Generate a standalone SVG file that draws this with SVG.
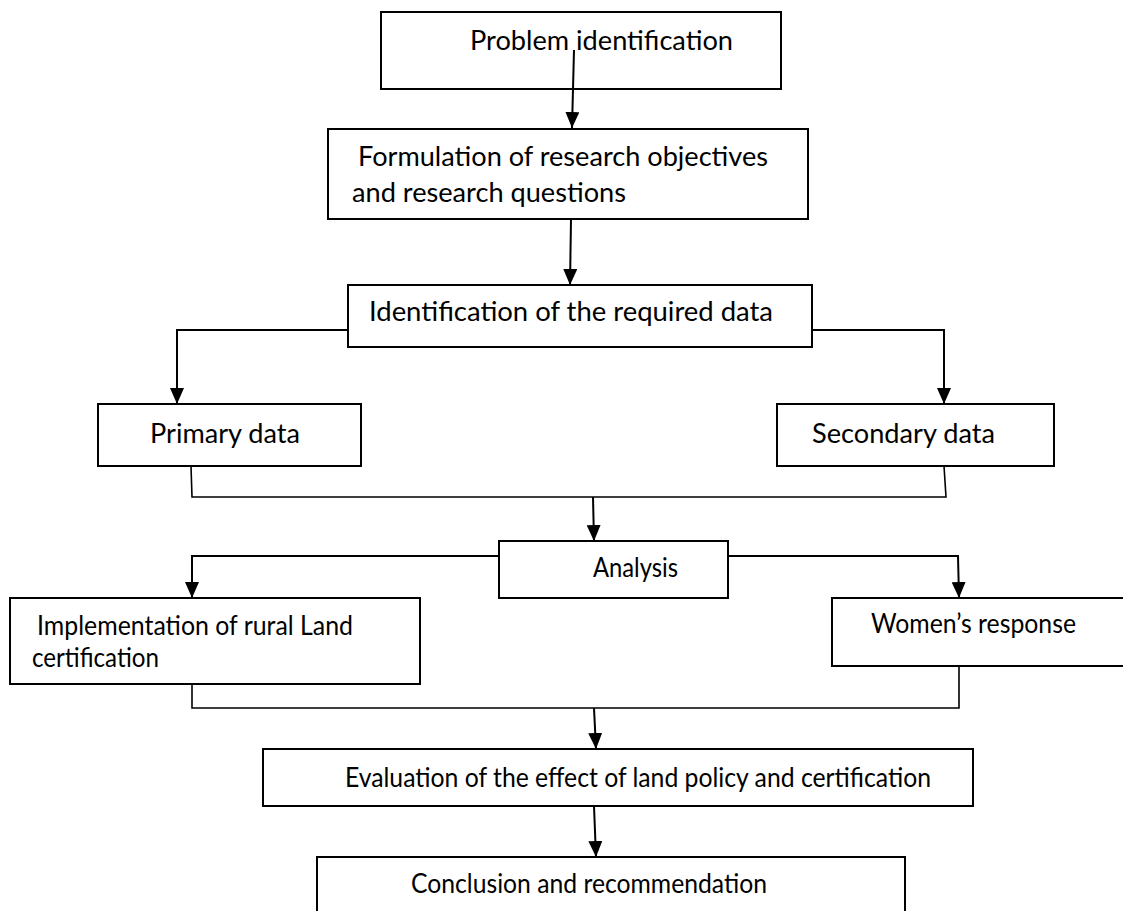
<svg xmlns="http://www.w3.org/2000/svg" width="1123" height="911" viewBox="0 0 1123 911">
  <style>
    .box { fill: #ffffff; stroke: #000000; stroke-width: 2; }
    .lbl { font-family: Lato, "Liberation Sans", sans-serif; font-size: 26px; fill: #000000; }
    .link { fill: none; stroke: #000000; stroke-width: 2; }
    .join { fill: none; stroke: #000000; stroke-width: 1.6; }
  </style>
  <defs>
    <marker id="arrow" viewBox="0 0 16 14" refX="16" refY="7" markerWidth="16" markerHeight="14" markerUnits="userSpaceOnUse" orient="auto">
      <path d="M0,0 L16,7 L0,14 Z" fill="#000000"/>
    </marker>
  </defs>
  <rect width="1123" height="911" fill="#ffffff"/>

  <!-- boxes -->
  <g id="problem">
    <rect class="box" x="381" y="12" width="400" height="77"/>
    <text class="lbl" x="470" y="50" textLength="263" lengthAdjust="spacingAndGlyphs">Problem identification</text>
  </g>
  <g id="formulation">
    <rect class="box" x="328" y="129" width="480" height="90"/>
    <text class="lbl" x="358" y="166" textLength="410" lengthAdjust="spacingAndGlyphs">Formulation of research objectives</text>
    <text class="lbl" x="352" y="202" textLength="274" lengthAdjust="spacingAndGlyphs">and research questions</text>
  </g>
  <g id="required-data">
    <rect class="box" x="348" y="285" width="464" height="62"/>
    <text class="lbl" x="369" y="321" textLength="404" lengthAdjust="spacingAndGlyphs">Identification of the required data</text>
  </g>
  <g id="primary">
    <rect class="box" x="98" y="404" width="263" height="62"/>
    <text class="lbl" x="150" y="443" textLength="150" lengthAdjust="spacingAndGlyphs">Primary data</text>
  </g>
  <g id="secondary">
    <rect class="box" x="777" y="404" width="277" height="62"/>
    <text class="lbl" x="812" y="443" textLength="183" lengthAdjust="spacingAndGlyphs">Secondary data</text>
  </g>
  <g id="analysis">
    <rect class="box" x="499" y="541" width="229" height="57"/>
    <text class="lbl" x="593" y="577" textLength="85" lengthAdjust="spacingAndGlyphs">Analysis</text>
  </g>
  <g id="implementation">
    <rect class="box" x="10" y="598" width="410" height="86"/>
    <text class="lbl" x="37" y="635" textLength="316" lengthAdjust="spacingAndGlyphs">Implementation of rural Land</text>
    <text class="lbl" x="32" y="667" textLength="127" lengthAdjust="spacingAndGlyphs">certification</text>
  </g>
  <g id="womens-response">
    <rect class="box" x="832" y="598" width="300" height="68"/>
    <text class="lbl" x="871" y="633" textLength="205" lengthAdjust="spacingAndGlyphs">Women’s response</text>
  </g>
  <g id="evaluation">
    <rect class="box" x="263" y="749" width="710" height="57"/>
    <text class="lbl" x="345" y="787" textLength="586" lengthAdjust="spacingAndGlyphs">Evaluation of the effect of land policy and certification</text>
  </g>
  <g id="conclusion">
    <rect class="box" x="317" y="857" width="588" height="70"/>
    <text class="lbl" x="411" y="893" textLength="356" lengthAdjust="spacingAndGlyphs">Conclusion and recommendation</text>
  </g>

  <!-- connectors -->
  <g id="connectors">
    <path class="link" d="M574,50 L572,128" marker-end="url(#arrow)"/>
    <path class="link" d="M571,219 L570,285" marker-end="url(#arrow)"/>
    <path class="link" d="M348,330 L177,330 L177,404" marker-end="url(#arrow)"/>
    <path class="link" d="M812,330 L944,330 L944,404" marker-end="url(#arrow)"/>
    <path class="join" d="M191,466 L192,497 L946,497 L944,466"/>
    <path class="link" d="M593,497 L594,541" marker-end="url(#arrow)"/>
    <path class="link" d="M499,556 L192,556 L192,598" marker-end="url(#arrow)"/>
    <path class="link" d="M728,556 L958,556 L959,598" marker-end="url(#arrow)"/>
    <path class="join" d="M192,684 L192,708 L959,708 L959,666"/>
    <path class="link" d="M594,708 L596,749" marker-end="url(#arrow)"/>
    <path class="link" d="M594,806 L596,857" marker-end="url(#arrow)"/>
  </g>
</svg>
